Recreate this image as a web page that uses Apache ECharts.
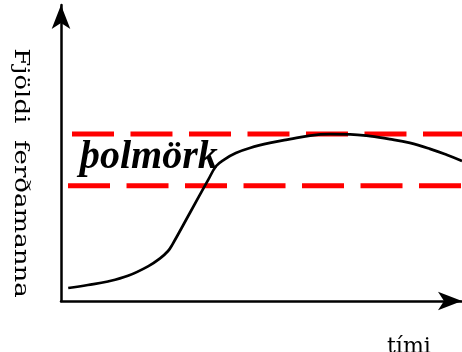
<!DOCTYPE html>
<html>
<head>
<meta charset="utf-8">
<title>þolmörk</title>
<script src="https://cdn.jsdelivr.net/npm/echarts@6/dist/echarts.min.js"></script>
<style>
    html, body { margin: 0; padding: 0; background: #fff; }
    #chart { width: 462px; height: 352px; }
</style>
</head>
<body>
<div id="chart"></div>
<script>
// time (0-100) and number of visitors (0-100)
var timeValues = [1.8, 6.7, 11.7, 16.7, 21.7, 24.7, 26.7, 27.7, 32.2, 36.7, 38.7, 40.7, 43.6, 47.1, 52.1, 57.1, 62.1, 67.1, 72.1, 77.1, 82.0, 87.0, 92.0, 96.3, 100];
var visitorValues = [4.4, 5.4, 6.6, 8.5, 11.7, 14.4, 16.9, 18.9, 29.9, 40.9, 45.6, 47.8, 50.0, 51.7, 53.4, 54.7, 55.9, 56.35, 56.3, 55.7, 54.7, 53.4, 51.4, 49.3, 47.3];

// the two limit lines (þolmörk)
var upperLimit = 56.4;
var lowerLimit = 38.9;
var upperStart = 2.74;
var lowerStart = 1.75;
var lineEnd = 100;

function pairs(xs, ys){
    var out = [];
    for(var i = 0;i<xs.length;i++){
        out.push([xs[i], ys[i]]);
    }
    return out;
}

var axisStyle = {
    show: true,
    onZero: false,
    symbol: ['none', 'arrow'],
    symbolSize: [14, 24],
    lineStyle: { color: '#000', width: 2.5 }
};

var option = {
    animation: false,
    grid: { left: 61, right: 0, top: 5, bottom: 51 },
    xAxis: {
        type: 'value',
        min: 0,
        max: 100,
        axisLine: axisStyle,
        axisTick: { show: false },
        axisLabel: { show: false },
        splitLine: { show: false }
    },
    yAxis: {
        type: 'value',
        min: 0,
        max: 100,
        axisLine: axisStyle,
        axisTick: { show: false },
        axisLabel: { show: false },
        splitLine: { show: false }
    },
    graphic: [
        {
            type: 'text',
            x: 20,
            y: 173,
            rotation: -Math.PI / 2,
            scaleX: 1.3,
            style: {
                text: 'Fjöldi  ferðamanna',
                font: '20px "DejaVu Serif"',
                fill: '#000',
                textAlign: 'center',
                textVerticalAlign: 'middle'
            }
        },
        {
            type: 'text',
            x: 80,
            y: 158,
            style: {
                text: 'þolmörk',
                font: 'italic bold 40px "Liberation Serif"',
                fill: '#000',
                textAlign: 'left',
                textVerticalAlign: 'middle'
            }
        },
        {
            type: 'text',
            x: 387,
            y: 336,
            style: {
                text: 'tími',
                font: '22px "DejaVu Serif"',
                fill: '#000',
                textAlign: 'left',
                textVerticalAlign: 'top'
            }
        }
    ],
    series: [
        {
            type: 'line',
            data: [[upperStart, upperLimit], [lineEnd, upperLimit]],
            showSymbol: false,
            lineStyle: { color: '#ff0000', width: 5, type: [42, 16.5] },
            z: 1
        },
        {
            type: 'line',
            data: [[lowerStart, lowerLimit], [lineEnd, lowerLimit]],
            showSymbol: false,
            lineStyle: { color: '#ff0000', width: 5, type: [42, 16.5] },
            z: 1
        },
        {
            type: 'line',
            data: pairs(timeValues, visitorValues),
            showSymbol: false,
            smooth: 0.4,
            lineStyle: { color: '#000', width: 2.7 },
            z: 3
        }
    ]
};

var myChart = echarts.init(document.getElementById('chart'));
myChart.setOption(option);
</script>
</body>
</html>
